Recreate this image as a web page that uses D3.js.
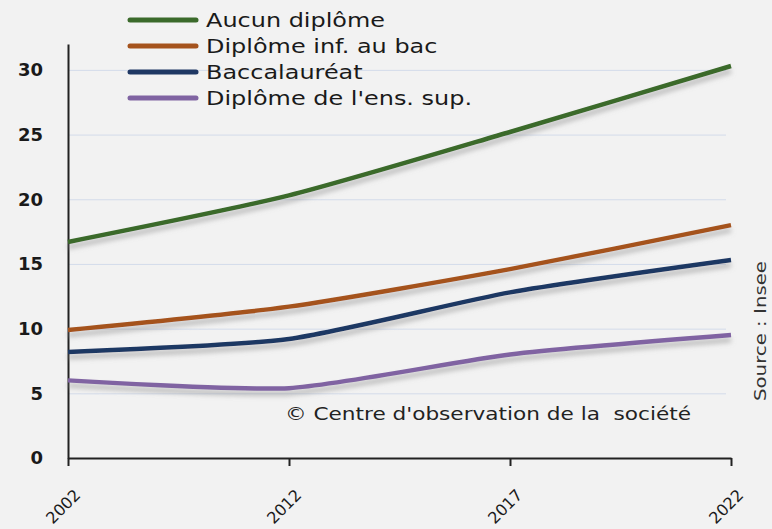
<!DOCTYPE html>
<html lang="fr">
<head>
<meta charset="UTF-8">
<title>Diplômes</title>
<script src="https://d3js.org/d3.v7.min.js"></script>
<style>
    *{margin:0;padding:0}
    body{background:#f2f2f2;font-family:"DejaVu Sans",sans-serif}
    .grid line{stroke:#d3dbea;stroke-width:1}
    .yax text{font-size:18px;font-weight:bold;fill:#1a1a1a;font-family:"DejaVu Sans",sans-serif}
    .xax text{font-size:16px;fill:#1a1a1a;font-family:"DejaVu Sans",sans-serif}
    .leg text{font-size:19px;fill:#1a1a1a}
</style>
</head>
<body>
<div id="chart"></div>
<script>
    // données
    var years = ["2002", "2012", "2017", "2022"];
    var seriesNames = ["Aucun diplôme", "Diplôme inf. au bac", "Baccalauréat", "Diplôme de l'ens. sup."];
    var aucun = [16.7, 20.3, 25.2, 30.3];
    var infBac = [9.9, 11.7, 14.6, 18.0];
    var bac = [8.2, 9.2, 12.8, 15.3];
    var sup = [6.0, 5.4, 8.0, 9.5];
    var yTicks = [0, 5, 10, 15, 20, 25, 30];
    var colors = ["#3b6a2b", "#a5531d", "#1f3864", "#8064a2"];

    var data = [aucun, infBac, bac, sup];

    var width = 772, height = 529;
    var svg = d3.select("#chart").append("svg")
        .attr("width", width).attr("height", height);

    var defs = svg.append("defs");
    var f = defs.append("filter").attr("id", "shadow")
        .attr("x", "-5%").attr("y", "-30%").attr("width", "110%").attr("height", "180%");
    f.append("feDropShadow").attr("dx", 0).attr("dy", 5).attr("stdDeviation", 2.5)
        .attr("flood-color", "#8a8a8a").attr("flood-opacity", 0.55);

    var x = d3.scalePoint().domain(years).range([68, 731]);
    var y = d3.scaleLinear().domain([0, 32]).range([458, 44]);

    // grille
    svg.append("g").attr("class", "grid")
        .selectAll("line").data(yTicks.filter(function (d) { return d > 0; }))
        .enter().append("line")
        .attr("x1", x.range()[0]).attr("x2", x.range()[1] - 5)
        .attr("y1", function (d) { return y(d) + 0.5; })
        .attr("y2", function (d) { return y(d) + 0.5; });

    // watermark
    svg.append("text")
        .attr("x", 285).attr("y", 420)
        .attr("textLength", 406).attr("lengthAdjust", "spacingAndGlyphs")
        .style("font-size", "18px").style("fill", "#222").style("white-space", "pre")
        .text("© Centre d'observation de la  société");

    // source
    svg.append("text")
        .attr("transform", "translate(766,331) rotate(-90)")
        .attr("text-anchor", "middle")
        .attr("textLength", 140).attr("lengthAdjust", "spacingAndGlyphs")
        .style("font-size", "16px").style("fill", "#333")
        .text("Source : Insee");

    // axe y
    var yAxis = svg.append("g").attr("class", "yax")
        .attr("transform", "translate(" + x.range()[0] + ",0)")
        .call(d3.axisLeft(y).tickValues(yTicks).tickSize(0).tickPadding(25));
    yAxis.select(".domain").attr("stroke", "#222").attr("stroke-width", 2);

    // axe x
    var xAxis = svg.append("g").attr("class", "xax")
        .attr("transform", "translate(0," + y(0) + ")")
        .call(d3.axisBottom(x).tickSize(8).tickSizeOuter(0));
    xAxis.select(".domain").attr("stroke", "#222").attr("stroke-width", 2);
    xAxis.selectAll(".tick line").attr("stroke", "#222").attr("stroke-width", 2);
    xAxis.selectAll("text")
        .attr("text-anchor", "end")
        .attr("x", null).attr("y", null).attr("dy", null)
        .attr("transform", "translate(13,38) rotate(-45)");

    // courbes
    var line = d3.line()
        .x(function (d, i) { return x(years[i]); })
        .y(function (d) { return y(d); })
        .curve(d3.curveCardinal.tension(0.35));

    svg.append("g").selectAll("path").data(data).enter().append("path")
        .attr("fill", "none")
        .attr("stroke", function (d, i) { return colors[i]; })
        .attr("stroke-width", 4.5)
        .attr("stroke-linejoin", "round")
        .attr("filter", "url(#shadow)")
        .attr("d", line);

    // légende
    var leg = svg.append("g").attr("class", "leg")
        .selectAll("g").data(seriesNames).enter().append("g")
        .attr("transform", function (d, i) { return "translate(130," + (20 + i * 26) + ")"; });
    leg.append("line")
        .attr("x1", 0).attr("x2", 66).attr("y1", 0).attr("y2", 0)
        .attr("stroke", function (d, i) { return colors[i]; })
        .attr("stroke-width", 5).attr("stroke-linecap", "round");
    leg.append("text")
        .attr("transform", "translate(76,0) scale(1.26,1)")
        .attr("dy", "0.36em")
        .text(function (d) { return d; });
</script>
</body>
</html>
